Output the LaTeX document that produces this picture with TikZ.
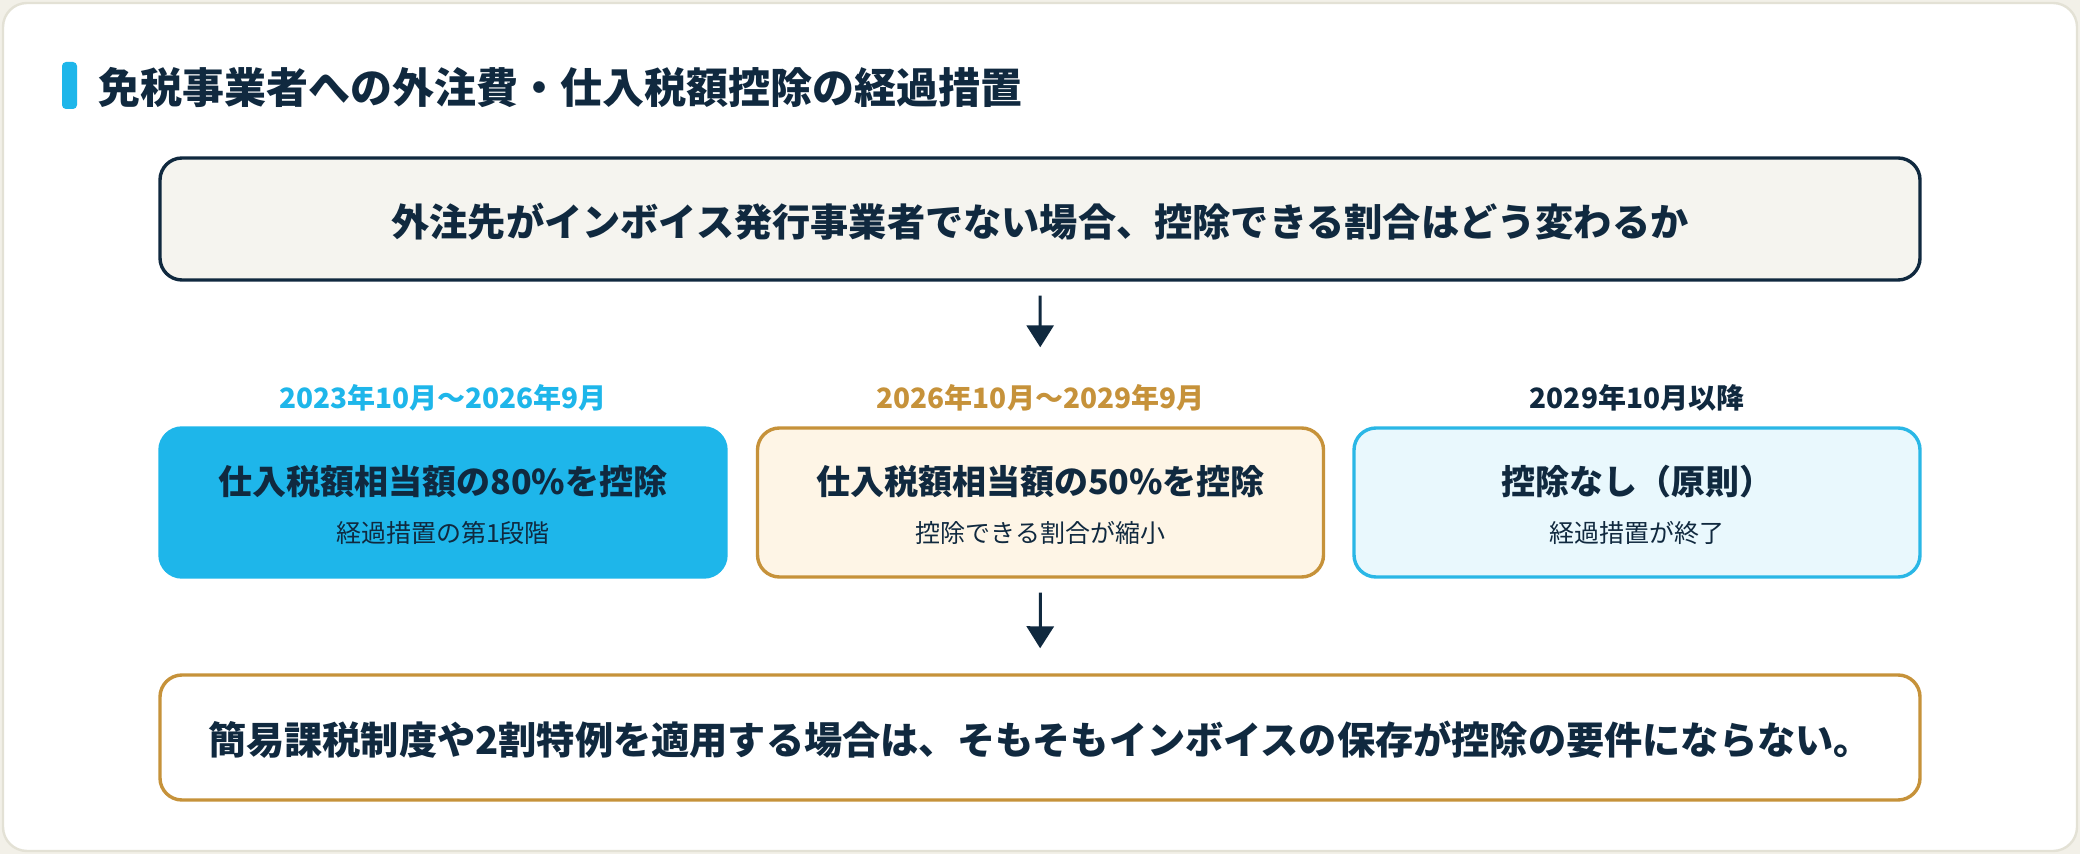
\documentclass[tikz,border=0pt]{standalone}
\usepackage{fontspec}
\setmainfont{Noto Sans CJK JP}
\usetikzlibrary{arrows.meta}
\definecolor{navy}{HTML}{10293F}
\definecolor{cyanc}{HTML}{1EB6EA}
\definecolor{cyanb}{HTML}{2AB7E6}
\definecolor{cyanf}{HTML}{E9F8FD}
\definecolor{gold}{HTML}{C6923A}
\definecolor{goldf}{HTML}{FEF5E6}
\definecolor{topf}{HTML}{F5F4EF}
\definecolor{cardb}{HTML}{E3E1D5}
\definecolor{outbg}{HTML}{F2F0E8}
\tikzset{
  boxbase/.style={rectangle, rounded corners=11pt, line width=1.7pt, inner sep=0pt},
  widebox/.style={boxbase, minimum width=880pt},
  stagebox/.style={boxbase, minimum width=283pt, minimum height=74.5pt},
  headtxt/.style={inner sep=0pt, text=navy, font=\fontsize{17pt}{20pt}\selectfont\bfseries},
  subtxt/.style={inner sep=0pt, text=navy, font=\fontsize{12.5pt}{15pt}\selectfont},
  periodtxt/.style={inner sep=0pt, font=\fontsize{14pt}{17pt}\selectfont\bfseries},
  arr/.style={draw=navy, line width=1.5pt, -{Triangle[length=11pt,width=13.5pt]}}
}
\begin{document}
\begin{tikzpicture}[x=0.5pt,y=-0.5pt]
\useasboundingbox (0,0) rectangle (2080,854);
\fill[outbg] (0,0) rectangle (2080,854);
\draw[cardb, fill=white, line width=1.2pt, rounded corners=12pt] (3,3) rectangle (2077,851);

% title
\fill[cyanc, rounded corners=2pt] (62,62) rectangle (77,109);
\node[anchor=west, inner sep=0pt, text=navy, font=\fontsize{21pt}{25pt}\selectfont\bfseries] (title) at (98,88) {免税事業者への外注費・仕入税額控除の経過措置};

% top question
\node[widebox, draw=navy, fill=topf, minimum height=61pt] (top) at (1040,219) {};
\node[inner sep=0pt, text=navy, font=\fontsize{19.1pt}{23pt}\selectfont\bfseries] (topt) at (1040,222) {外注先がインボイス発行事業者でない場合、控除できる割合はどう変わるか};

% stage boxes
\node[stagebox, fill=cyanc, draw=cyanc] (b1) at (443,502.5) {};
\node[stagebox, fill=goldf, draw=gold] (b2) at (1040.5,502.5) {};
\node[stagebox, fill=cyanf, draw=cyanb] (b3) at (1637,502.5) {};

\node[periodtxt, text=cyanc] (p1) at (443,398) {2023年10月～2026年9月};
\node[periodtxt, text=gold] (p2) at (1040.5,398) {2026年10月～2029年9月};
\node[periodtxt, text=navy] (p3) at (1637,398) {2029年10月以降};

\node[headtxt] (h1) at (443,482) {仕入税額相当額の80\%を控除};
\node[subtxt] (s1) at (443,533) {経過措置の第1段階};
\node[headtxt] (h2) at (1040.5,482) {仕入税額相当額の50\%を控除};
\node[subtxt] (s2) at (1040.5,533) {控除できる割合が縮小};
\node[headtxt] (h3) at (1637,482) {控除なし（原則）};
\node[subtxt] (s3) at (1637,533) {経過措置が終了};

% bottom note
\node[widebox, draw=gold, fill=white, minimum height=62.5pt] (bot) at (1040,737.5) {};
\node[inner sep=0pt, text=navy, font=\fontsize{19.1pt}{23pt}\selectfont\bfseries] (bott) at (1040,740) {簡易課税制度や2割特例を適用する場合は、そもそもインボイスの保存が控除の要件にならない。};

% arrows
\draw[arr, shorten <=7pt, shorten >=39.5pt] (top.south) -- (b2.north);
\draw[arr, shorten <=7pt, shorten >=12.5pt] (b2.south) -- (bot.north);
\end{tikzpicture}
\end{document}
